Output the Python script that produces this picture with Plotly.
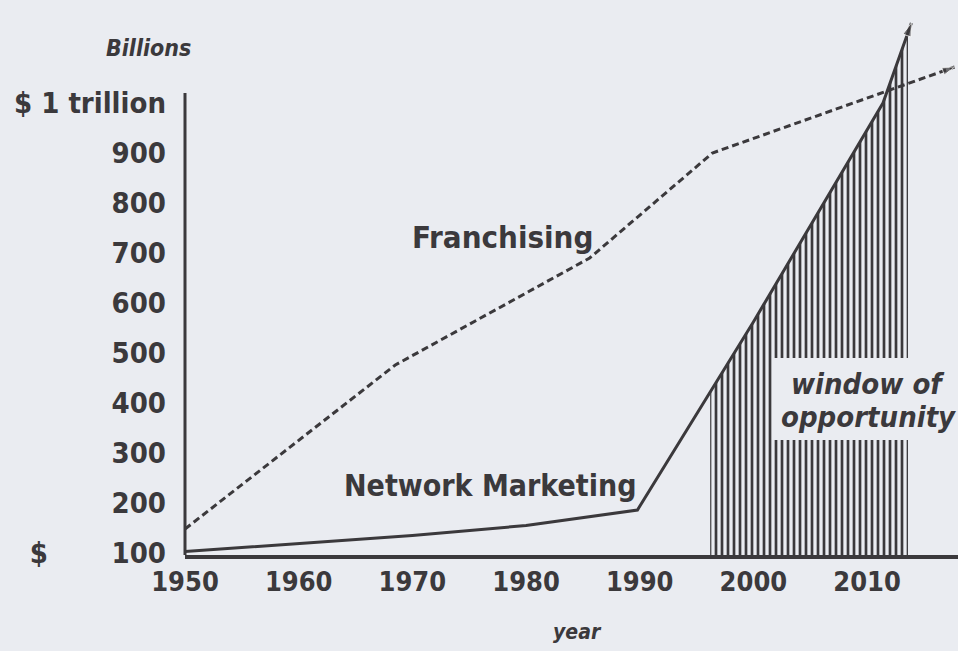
import numpy as np
import plotly.graph_objects as go

# ---- data ----
nm_years = [1950, 1970, 1980, 1989.8, 2000, 2011.4, 2013.9]
nm_values = [103, 135, 155, 186, 562, 1000, 1160]

fr_years = [1950, 1968.5, 1985.6, 1996.4, 2017.7]
fr_values = [148, 476, 690, 900, 1072]

window_years = [1996.2, 2013.6]

x_tick_vals = [1950, 1960, 1970, 1980, 1990, 2000, 2010]
y_tick_vals = [100, 200, 300, 400, 500, 600, 700, 800, 900, 1000]
y_tick_text = ["$" + "\u00a0" * 7 + "100", "200", "300", "400", "500", "600",
               "700", "800", "900", "$ 1 trillion"]

BG = "#eaecf1"
INK = "#3b393c"
FONT = "DejaVu Sans Condensed, Liberation Sans Narrow, sans-serif"

L, R, T, B = 185, 0, 0, 96
W, H = 958, 651
PW, PH = W - L - R, H - T - B


def px2paper(px, py):
    return (px - L) / PW, (H - B - py) / PH


fig = go.Figure()

# shaded "window of opportunity" (striped area under the Network Marketing line)
wx = [window_years[0]] + [y for y in nm_years if window_years[0] < y < window_years[1]] + [window_years[1]]
wy = list(np.interp(wx, nm_years, nm_values))
fig.add_trace(go.Scatter(
    x=wx, y=wy, mode="lines", line=dict(width=0, color=INK),
    fill="tozeroy", fillcolor="rgba(0,0,0,0)",
    fillpattern=dict(shape="|", size=6, solidity=0.45, fgcolor=INK,
                     bgcolor="rgba(0,0,0,0)", fgopacity=1),
    hoverinfo="skip", showlegend=False))

# Franchising (dashed)
fig.add_trace(go.Scatter(
    x=fr_years, y=fr_values, mode="lines+markers",
    line=dict(color=INK, width=3, dash="7px,4px"),
    marker=dict(symbol="arrow", angleref="previous", color=INK,
                size=[0] * (len(fr_years) - 1) + [13]),
    showlegend=False, name="Franchising"))

# Network Marketing (solid)
fig.add_trace(go.Scatter(
    x=nm_years, y=nm_values, mode="lines+markers",
    line=dict(color=INK, width=3),
    marker=dict(symbol="arrow", angleref="previous", color=INK,
                size=[0] * (len(nm_years) - 1) + [14]),
    showlegend=False, name="Network Marketing"))

bx0, by0 = px2paper(773, 440)
bx1, by1 = px2paper(958, 358)
shapes = [
    # y-axis line
    dict(type="line", xref="paper", yref="y", x0=0, x1=0, y0=96, y1=1020,
         line=dict(color=INK, width=3)),
    # plain box behind the window label
    dict(type="rect", xref="paper", yref="paper", x0=bx0, x1=1.0,
         y0=by0, y1=by1, fillcolor=BG, line=dict(width=0), layer="above"),
]


def label(text, px, py, size, style=""):
    x, y = px2paper(px, py)
    if style == "bi":
        t = f"<b><i>{text}</i></b>"
    elif style == "b":
        t = f"<b>{text}</b>"
    else:
        t = text
    return dict(text=t, x=x, y=y, xref="paper", yref="paper", showarrow=False,
                xanchor="center", yanchor="middle",
                font=dict(family=FONT, size=size, color=INK))


annotations = [
    label("Franchising", 502, 237, 31, "b"),
    label("Network Marketing", 490, 485, 30, "b"),
    label("window of", 868, 384, 29, "bi"),
    label("opportunity", 868, 417, 29, "bi"),
    label("Billions", 148, 48, 23, "bi"),
    label("year", 577, 632, 21, "bi"),
]

fig.update_layout(
    width=W, height=H,
    margin=dict(l=L, r=R, t=T, b=B),
    paper_bgcolor=BG, plot_bgcolor=BG,
    shapes=shapes, annotations=annotations,
    xaxis=dict(range=[1950, 2018], tickvals=x_tick_vals,
               ticktext=[f"<b>{v}</b>" for v in x_tick_vals],
               showgrid=False, zeroline=False, showline=True,
               linecolor=INK, linewidth=4, ticks="",
               tickfont=dict(family=FONT, size=27, color=INK)),
    yaxis=dict(range=[96, 1206], tickvals=y_tick_vals,
               ticktext=[f"<b>{t}</b>" for t in y_tick_text],
               showgrid=False, zeroline=False, showline=False, ticks="",
               ticklabelstandoff=18,
               tickfont=dict(family=FONT, size=29, color=INK)),
)

fig.write_html("out.html", config={"displayModeBar": False},
               post_script="document.body.style.margin='0';document.body.style.overflow='hidden';")
